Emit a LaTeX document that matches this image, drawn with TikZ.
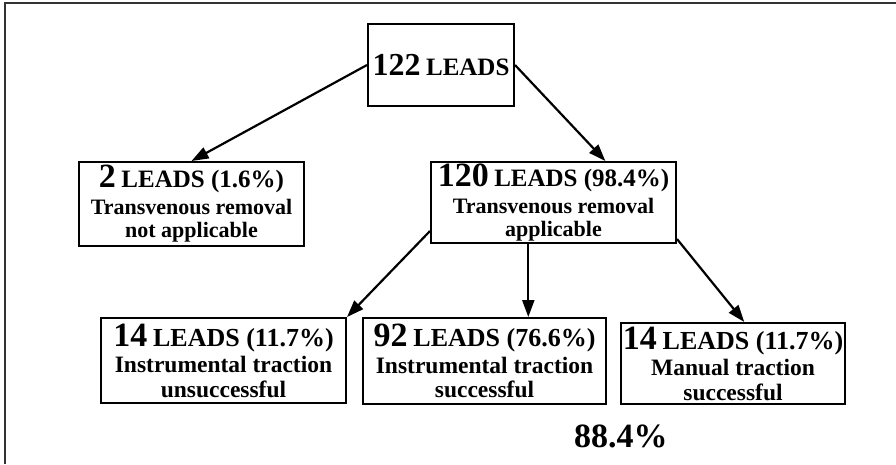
\documentclass[tikz,border=0pt]{standalone}
\usepackage{fontspec}
\setmainfont{Liberation Serif}
\usetikzlibrary{arrows.meta,calc}

% count in a large figure, the rest of the first line a bit smaller
\newcommand\leadcount[1]{{\fontsize{34}{34}\selectfont #1}}
\newcommand\leadrest[1]{{\fontsize{25}{25}\selectfont #1}}
\newcommand\leadrestwide[1]{{\fontsize{26}{26}\selectfont #1}}

\begin{document}
\begin{tikzpicture}[x=1pt,y=-1pt,
  leadbox/.style={draw, line width=2pt, inner sep=0pt, align=center,
                  font=\bfseries\fontsize{22}{23}\selectfont},
  outcome/.style={leadbox, font=\bfseries\fontsize{23.5}{24.5}\selectfont},
  link/.style={line width=2.2pt, -{Triangle[length=17pt,width=12pt]}},
  total/.style={font=\bfseries\fontsize{34}{34}\selectfont, inner sep=0pt}]

\useasboundingbox (0,0) rectangle (896,464);

% outer frame (left and top edges)
\draw[line width=1.6pt, black!80] (5,464) -- (5,3) -- (896,3);

% boxes
\node[leadbox, minimum width=146pt, minimum height=82pt] (root) at (441,65)
  {{\fontsize{32}{32}\selectfont 122} {\fontsize{25}{25}\selectfont LEADS}};

\node[leadbox, minimum width=225pt, minimum height=84pt] (na) at (191.5,204)
  {\leadcount{2} \leadrest{LEADS (1.6\%)}\\[4pt] Transvenous removal\\ not applicable};

\node[leadbox, minimum width=245pt, minimum height=81pt] (app) at (553.5,202.5)
  {\leadcount{120} \leadrest{LEADS (98.4\%)}\\[4pt] Transvenous removal\\ applicable};

\node[outcome, minimum width=245pt, minimum height=85pt] (fail) at (223.5,360.5)
  {\leadcount{14} \leadrestwide{LEADS (11.7\%)}\\[2pt] Instrumental traction\\ unsuccessful};

\node[outcome, minimum width=243pt, minimum height=86pt] (instr) at (484.5,361)
  {\leadcount{92} \leadrestwide{LEADS (76.6\%)}\\[2pt] Instrumental traction\\ successful};

\node[outcome, minimum width=224pt, minimum height=81pt] (manual) at (733,363.5)
  {\leadcount{14} \leadrestwide{LEADS (11.7\%)}\\[2pt] Manual traction\\ successful};

\node[total, anchor=base west] (sum) at (574,447) {88.4\%};

% connector end points on box edges
\coordinate (appIn)    at ($(app.north west)!0.71!(app.north east)$);
\coordinate (appOutL)  at ($(app.south west)+(0,-13)$);
\coordinate (appOutM)  at ($(app.south west)!0.398!(app.south east)$);
\coordinate (appOutR)  at ($(app.south east)+(0,-5)$);
\coordinate (manualIn) at ($(manual.north west)!0.55!(manual.north east)$);

% connectors
\draw[link] (root.west) -- (na.north);
\draw[link] (root.east) -- (appIn);
\draw[link] (appOutL) -- (fail.north east);
\draw[link] (appOutM) -- (appOutM |- instr.north);
\draw[link] (appOutR) -- (manualIn);

\end{tikzpicture}
\end{document}
